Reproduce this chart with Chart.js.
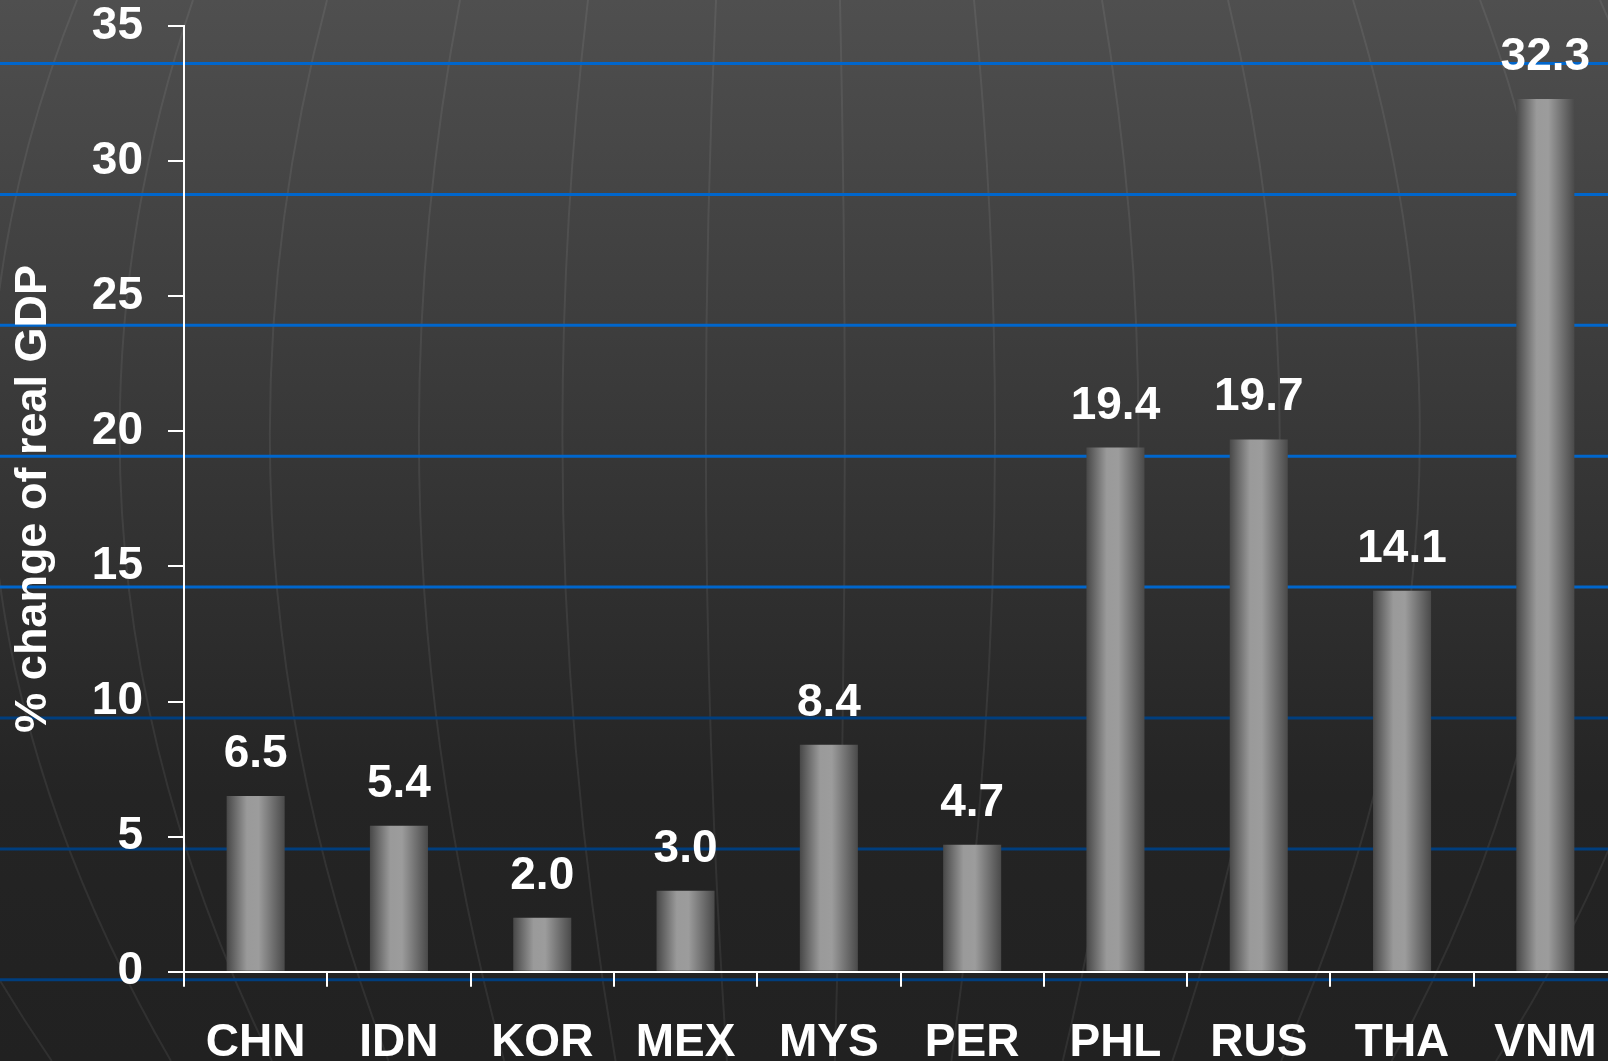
<!DOCTYPE html>
<html lang="en">
<head>
  <meta charset="UTF-8" />
  <title>% change of real GDP</title>
  <script src="https://cdn.jsdelivr.net/npm/chart.js"></script>
  <style>
    html, body {
      margin: 0;
      padding: 0;
      width: 1608px;
      height: 1061px;
      overflow: hidden;
      background: #222;
    }
    #wrap {
      width: 1617px;
      height: 1061px;
    }
    canvas {
      display: block;
    }
  </style>
</head>
<body>
  <div id="wrap">
    <canvas id="gdpChart" width="1617" height="1061"></canvas>
  </div>

  <script>
    const countries = ['CHN', 'IDN', 'KOR', 'MEX', 'MYS', 'PER', 'PHL', 'RUS', 'THA', 'VNM'];
    const gdpChange = [6.5, 5.4, 2.0, 3.0, 8.4, 4.7, 19.4, 19.7, 14.1, 32.3];
    const yTicks = { min: 0, max: 35, step: 5 };
    const yTitle = '% change of real GDP';

    const FONT = '"Liberation Sans", Arial, Helvetica, sans-serif';

    // horizontal metallic shading for every bar
    function barFill(ctx) {
      const chart = ctx.chart;
      if (!chart.chartArea) return '#888';
      const x = chart.scales.x.getPixelForValue(ctx.dataIndex);
      const half = 29;
      const g = chart.ctx.createLinearGradient(x - half, 0, x + half, 0);
      g.addColorStop(0, '#484848');
      g.addColorStop(0.35, '#9a9a9a');
      g.addColorStop(0.55, '#9c9c9c');
      g.addColorStop(1, '#4a4a4a');
      return g;
    }

    // slide template: dark gradient, faint globe meridians, blue rules
    const backdrop = {
      id: 'backdrop',
      beforeDraw(chart) {
        const { ctx, width, height } = chart;
        ctx.save();
        const bg = ctx.createLinearGradient(0, 0, 0, height);
        bg.addColorStop(0, '#4f4f4f');
        bg.addColorStop(0.75, '#242424');
        bg.addColorStop(1, '#212121');
        ctx.fillStyle = bg;
        ctx.fillRect(0, 0, width, height);

        const tops = [-60, 77, 193, 327, 460, 588, 716, 840, 974, 1102, 1228, 1353, 1480, 1600];
        ctx.strokeStyle = 'rgba(255,255,255,0.07)';
        ctx.lineWidth = 2;
        tops.forEach(xt => {
          const off = xt - 800;
          const xb = xt - 0.13 * off;
          const xc = (xt + xb) / 2 + 0.36 * off;
          ctx.beginPath();
          ctx.moveTo(xt, 0);
          ctx.quadraticCurveTo(xc, height / 2, xb, height);
          ctx.stroke();
        });

        ctx.lineWidth = 3;
        for (let i = 0; i < 8; i++) {
          const y = 63.5 + i * 130.9;
          ctx.strokeStyle = i < 5 ? '#0066cc' : '#003e7e';
          ctx.beginPath();
          ctx.moveTo(0, y);
          ctx.lineTo(width, y);
          ctx.stroke();
        }
        ctx.restore();
      }
    };

    const valueLabels = {
      id: 'valueLabels',
      afterDatasetsDraw(chart) {
        const { ctx } = chart;
        const meta = chart.getDatasetMeta(0);
        ctx.save();
        ctx.font = 'bold 46px ' + FONT;
        ctx.fillStyle = '#ffffff';
        ctx.textAlign = 'center';
        ctx.textBaseline = 'alphabetic';
        meta.data.forEach((bar, i) => {
          ctx.fillText(gdpChange[i].toFixed(1), bar.x, bar.y - 29);
        });
        ctx.restore();
      }
    };

    new Chart(document.getElementById('gdpChart'), {
      type: 'bar',
      data: {
        labels: countries,
        datasets: [{
          data: gdpChange,
          backgroundColor: barFill,
          borderWidth: 0,
          barPercentage: 0.405,
          categoryPercentage: 1
        }]
      },
      options: {
        responsive: false,
        animation: false,
        devicePixelRatio: 1,
        layout: { padding: { top: 26, right: 0, bottom: 0, left: 0 } },
        plugins: {
          legend: { display: false },
          tooltip: { enabled: false }
        },
        scales: {
          x: {
            grid: {
              offset: true,
              drawOnChartArea: false,
              drawTicks: true,
              tickLength: 15,
              color: '#ffffff',
              lineWidth: 2
            },
            border: { display: true, color: '#ffffff', width: 2 },
            ticks: {
              color: '#ffffff',
              font: { family: FONT, size: 46, weight: 'bold' },
              padding: 29,
              autoSkip: false,
              maxRotation: 0
            },
            afterFit(s) {
              s.height = 89.3;
              s.paddingLeft = 0;
              s.paddingRight = 0;
            }
          },
          y: {
            min: yTicks.min,
            max: yTicks.max,
            grid: {
              drawOnChartArea: false,
              drawTicks: true,
              tickLength: 16,
              color: '#ffffff',
              lineWidth: 2
            },
            border: { display: true, color: '#ffffff', width: 2 },
            ticks: {
              stepSize: yTicks.step,
              color: '#ffffff',
              font: { family: FONT, size: 46, weight: 'bold' },
              padding: 25
            },
            title: {
              display: true,
              text: yTitle,
              color: '#ffffff',
              font: { family: FONT, size: 45, weight: 'bold' },
              padding: { top: 7, bottom: 0 }
            },
            afterFit(s) {
              s.width = 184;
              s.paddingTop = 0;
              s.paddingBottom = 0;
            }
          }
        }
      },
      plugins: [backdrop, valueLabels]
    });
  </script>
</body>
</html>
